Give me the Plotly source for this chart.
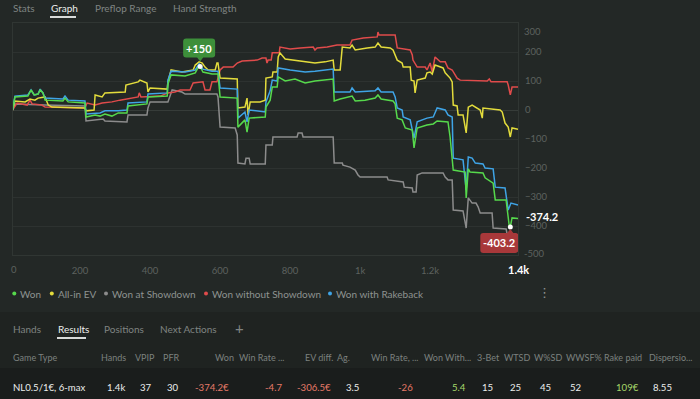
import plotly.graph_objects as go

W, H = 700, 399
FONT = "Lato"
BG = "#232826"
PANEL = "#1f2321"
ROW = "#1a1d1c"
GRID = "#2d3230"
AXIS_TXT = "#5d625f"
TAB_TXT = "#7f8482"
HEAD_TXT = "#7c817f"
WHITE = "#eceeed"
NEG = "#e57a68"
POS = "#a6d86a"

GREEN = "#56d94c"
YELLOW = "#e3dc3c"
GRAY = "#8c8c8c"
RED = "#e04b4b"
BLUE = "#3fa4e6"

# ---------------- data (hands, amount) ----------------
won = [(7, 0), (14, 45), (51, 48), (60, 69), (69, 52), (80, 55), (86, 69), (94, 59), (100, 34),
       (151, 31), (157, 41), (166, 28), (214, 24), (217, -24), (243, -17), (257, -21), (271, -14),
       (291, -21), (309, -10), (334, -10), (337, 14), (391, 21), (394, 45), (449, 48), (451, 90),
       (460, 121), (500, 117), (529, 128), (537, 146), (543, 150), (551, 131), (577, 124), (594, 124),
       (600, 45), (649, 41), (651, -59), (671, -34), (677, -76), (683, -28), (729, -24), (731, 10),
       (743, 34), (749, 79), (763, 79), (766, 114), (786, 100), (814, 107), (843, 93), (871, 100),
       (900, 103), (923, 107), (926, 31), (943, 38), (977, 48), (986, 31), (1014, 34), (1043, 41),
       (1051, 52), (1060, 38), (1094, 31), (1100, 21), (1106, -28), (1120, -34), (1129, -62),
       (1143, -66), (1149, -69), (1154, -131), (1163, -62), (1191, -52), (1209, -48), (1220, -38),
       (1251, -41), (1257, -93), (1266, -207), (1300, -214), (1303, -303), (1309, -203), (1314, -214),
       (1351, -217), (1357, -234), (1380, -252), (1386, -310), (1417, -310), (1426, -400),
       (1429, -403.2), (1434, -372), (1451, -374.2)]

allin_ev = [(7, 0), (14, 31), (43, 28), (57, 38), (71, 34), (80, 41), (100, 45), (109, 17), (120, 10),
            (214, 7), (217, -3), (240, 0), (243, 52), (263, 45), (271, 59), (309, 62), (329, 62),
            (331, 86), (366, 97), (371, 103), (386, 97), (391, 93), (394, 62), (400, 76), (449, 72),
            (451, 97), (460, 138), (491, 131), (523, 138), (529, 155), (540, 166), (549, 162),
            (557, 148), (566, 138), (586, 138), (591, 162), (594, 162), (600, 110), (649, 107),
            (651, 7), (671, 10), (677, 41), (680, -17), (686, 28), (714, 28), (729, 34), (731, 110),
            (749, 114), (751, 131), (763, 131), (766, 183), (771, 197), (786, 176), (814, 172),
            (843, 166), (871, 162), (900, 166), (923, 172), (926, 138), (943, 138), (949, 217),
            (971, 214), (977, 224), (986, 207), (1020, 214), (1043, 217), (1051, 231), (1060, 217),
            (1086, 214), (1094, 207), (1106, 172), (1120, 162), (1123, 148), (1143, 148), (1146, 103),
            (1154, 100), (1157, 59), (1163, 103), (1186, 110), (1191, 128), (1200, 131), (1206, 124),
            (1214, 155), (1237, 145), (1243, 128), (1257, 110), (1263, 97), (1266, 17), (1277, 14),
            (1280, -17), (1294, -17), (1303, -79), (1309, 10), (1320, 17), (1343, 0), (1349, -28),
            (1351, 7), (1400, 0), (1406, -7), (1414, -45), (1423, -59), (1429, -93), (1434, -62),
            (1451, -66)]

won_showdown = [(7, 0), (14, 21), (100, 17), (214, 14), (217, -38), (266, -31), (271, -38), (334, -41),
                (337, -17), (391, -17), (394, 7), (400, 28), (451, 28), (457, 52), (463, 69), (491, 62),
                (500, 55), (591, 55), (594, 45), (600, -59), (643, -62), (649, -86), (651, -183),
                (671, -186), (674, -166), (683, -166), (686, -186), (729, -186), (731, -121), (749, -121),
                (751, -93), (820, -93), (823, -79), (834, -79), (837, -93), (923, -93), (926, -183),
                (949, -183), (951, -190), (971, -197), (986, -207), (994, -224), (1000, -231),
                (1077, -231), (1080, -241), (1123, -248), (1126, -266), (1149, -269), (1151, -283),
                (1160, -283), (1163, -224), (1177, -217), (1237, -217), (1243, -231), (1251, -241),
                (1263, -241), (1266, -345), (1294, -348), (1303, -407), (1309, -303), (1320, -321),
                (1331, -321), (1337, -334), (1343, -355), (1377, -355), (1380, -407), (1417, -410),
                (1423, -448), (1451, -452)]

won_no_showdown = [(7, 0), (20, 24), (49, 17), (57, 34), (63, 21), (91, 17), (100, 10), (214, 7), (220, 24),
                   (243, 17), (263, 24), (291, 28), (314, 34), (349, 41), (366, 45), (369, 59), (374, 45),
                   (429, 48), (451, 59), (471, 62), (486, 69), (514, 69), (523, 93), (551, 97), (557, 69),
                   (571, 69), (577, 97), (591, 97), (600, 138), (609, 148), (637, 148), (649, 162),
                   (663, 169), (706, 172), (720, 179), (731, 179), (734, 162), (737, 172), (746, 172),
                   (749, 197), (769, 197), (771, 217), (800, 210), (829, 214), (866, 217), (871, 207),
                   (877, 214), (906, 217), (934, 224), (971, 224), (977, 241), (1009, 248), (1049, 252),
                   (1051, 269), (1054, 259), (1100, 259), (1106, 214), (1143, 207), (1149, 190),
                   (1151, 172), (1163, 148), (1186, 148), (1191, 138), (1200, 162), (1206, 131),
                   (1214, 183), (1229, 166), (1243, 166), (1251, 145), (1263, 138), (1277, 110),
                   (1286, 103), (1363, 100), (1369, 107), (1374, 97), (1420, 97), (1423, 86), (1429, 52),
                   (1434, 79), (1451, 79)]

won_rakeback = [(7, 0), (14, 48), (51, 52), (60, 69), (69, 52), (80, 55), (86, 72), (94, 59), (100, 41),
                (151, 38), (157, 48), (166, 34), (214, 31), (217, -14), (257, -10), (271, -3), (309, -3),
                (334, 0), (337, 24), (391, 28), (394, 55), (449, 59), (451, 103), (460, 134), (500, 131),
                (529, 138), (540, 159), (551, 141), (577, 134), (594, 134), (600, 76), (649, 72),
                (651, -28), (671, -7), (677, -41), (683, 0), (729, -7), (731, 28), (743, 66), (749, 103),
                (763, 100), (766, 145), (800, 138), (843, 131), (871, 134), (900, 138), (923, 141),
                (926, 62), (971, 62), (977, 76), (986, 62), (1043, 66), (1051, 76), (1060, 62), (1094, 62),
                (1100, 45), (1106, 7), (1120, 0), (1123, -24), (1143, -34), (1149, -69), (1154, -97),
                (1163, -41), (1191, -28), (1209, -24), (1220, 7), (1243, 0), (1251, -17), (1263, -24),
                (1266, -166), (1294, -172), (1303, -276), (1309, -162), (1320, -166), (1329, -183),
                (1351, -186), (1357, -200), (1380, -203), (1386, -266), (1414, -269), (1423, -345),
                (1431, -321), (1451, -328)]

x_ticks = [200, 400, 600, 800, 1000, 1200]
x_tick_text = ["200", "400", "600", "800", "1k", "1.2k"]
y_ticks = [-400, -300, -200, -100, 0, 100, 200]

legend_names = ["Won", "All-in EV", "Won at Showdown", "Won without Showdown", "Won with Rakeback"]

top_tabs = ["Stats", "Graph", "Preflop Range", "Hand Strength"]
bottom_tabs = ["Hands", "Results", "Positions", "Next Actions"]
columns = ["Game Type", "Hands", "VPIP", "PFR", "Won", "Win Rate ...", "EV diff.", "Ag.",
           "Win Rate, ...", "Won With...", "3-Bet", "WTSD", "W%SD", "WWSF%", "Rake paid", "Dispersio..."]
row_values = ["NL0.5/1€, 6-max", "1.4k", "37", "30", "-374.2€", "-4.7", "-306.5€", "3.5",
              "-26", "5.4", "15", "25", "45", "52", "109€", "8.55"]

# ---------------- layout helpers (pixel -> paper) ----------------
def X(p):
    return p / W


def Y(p):
    return 1 - p / H


PLOT_L, PLOT_R, PLOT_T, PLOT_B = 12.5, 518, 23, 255

fig = go.Figure()

series = [
    ("Won at Showdown", won_showdown, GRAY),
    ("Won without Showdown", won_no_showdown, RED),
    ("All-in EV", allin_ev, YELLOW),
    ("Won with Rakeback", won_rakeback, BLUE),
    ("Won", won, GREEN),
]
for name, pts, col in series:
    xs, ys = zip(*pts)
    fig.add_trace(go.Scatter(x=list(xs), y=list(ys), mode="lines", name=name,
                             line=dict(color=col, width=1.5), showlegend=False, hoverinfo="skip"))

won_x = [p[0] for p in won]
won_y = [p[1] for p in won]
imax = max(range(len(won_y)), key=lambda i: won_y[i])
imin = min(range(len(won_y)), key=lambda i: won_y[i])
fig.add_trace(go.Scatter(x=[won_x[imax], won_x[imin]], y=[won_y[imax], won_y[imin]], mode="markers",
                         marker=dict(color="white", size=5), showlegend=False, hoverinfo="skip",
                         cliponaxis=False))

ann = []
shapes = []


def text(s, x, y, color, size=10.5, anchor="left", bold=False, family=FONT):
    ann.append(dict(text=("<b>%s</b>" % s) if bold else s, x=X(x), y=Y(y), xref="paper", yref="paper",
                    xanchor=anchor, yanchor="middle", showarrow=False,
                    font=dict(family=family, size=size, color=color)))


def hline(x0, x1, y, color, width=2):
    shapes.append(dict(type="line", xref="paper", yref="paper", x0=X(x0), x1=X(x1), y0=Y(y), y1=Y(y),
                       line=dict(color=color, width=width), layer="above"))


def rrect_path(l, r, t, b, rad, tip=None):
    # y positive = up ; tip = ("down"/"up", cx, half, tipy)
    p = "M%s,%s " % (l + rad, t)
    if tip and tip[0] == "up":
        _, cx, hw, ty = tip
        p += "L%s,%s L%s,%s L%s,%s " % (cx - hw, t, cx, ty, cx + hw, t)
    p += "L%s,%s Q%s,%s %s,%s " % (r - rad, t, r, t, r, t - rad)
    p += "L%s,%s Q%s,%s %s,%s " % (r, b + rad, r, b, r - rad, b)
    if tip and tip[0] == "down":
        _, cx, hw, ty = tip
        p += "L%s,%s L%s,%s L%s,%s " % (cx + hw, b, cx, ty, cx - hw, b)
    p += "L%s,%s Q%s,%s %s,%s " % (l + rad, b, l, b, l, b + rad)
    p += "L%s,%s Q%s,%s %s,%s Z" % (l, t - rad, l, t, l + rad, t)
    return p


# bubbles anchored on the max / min of "Won"
shapes.append(dict(type="path", xref="x", yref="y", xsizemode="pixel", ysizemode="pixel",
                   xanchor=won_x[imax], yanchor=won_y[imax],
                   path=rrect_path(-17, 15, 28, 9, 3, ("down", 0, 3, 5)),
                   fillcolor="#3d8f3a", line=dict(width=0), layer="above"))
ann.append(dict(text="<b>+%g</b>" % won_y[imax], x=won_x[imax], y=won_y[imax], xref="x", yref="y",
                xshift=-1, yshift=18.5, showarrow=False, font=dict(family=FONT, size=11, color="white")))
shapes.append(dict(type="path", xref="x", yref="y", xsizemode="pixel", ysizemode="pixel",
                   xanchor=won_x[imin], yanchor=won_y[imin],
                   path=rrect_path(-30, 8, -6, -26, 3, ("up", 0, 3, -2)),
                   fillcolor="#a8383a", line=dict(width=0), layer="above"))
ann.append(dict(text="<b>%g</b>" % won_y[imin], x=won_x[imin], y=won_y[imin], xref="x", yref="y",
                xshift=-11, yshift=-16, showarrow=False, font=dict(family=FONT, size=11, color="white")))
# last value label
ann.append(dict(text="<b>%g</b>" % won_y[-1], x=won_x[-1], y=won_y[-1], xref="x", yref="y",
                xanchor="left", xshift=6, yshift=2.5, showarrow=False,
                font=dict(family=FONT, size=11, color="white")))
# last x label
ann.append(dict(text="<b>1.4k</b>", x=won_x[-1], y=Y(269), xref="x", yref="paper", yanchor="middle",
                showarrow=False, font=dict(family=FONT, size=11, color="white")))
# edge axis labels
text("0", 14, 269, AXIS_TXT, size=9.5, anchor="center")
text("300", 522, 31.5, AXIS_TXT, size=9.5)
text("-500", 522, 253, AXIS_TXT, size=9.5)

# panels
shapes.append(dict(type="rect", xref="paper", yref="paper", x0=0, x1=1, y0=Y(399), y1=Y(312),
                   fillcolor=PANEL, line=dict(width=0), layer="below"))
shapes.append(dict(type="rect", xref="paper", yref="paper", x0=0, x1=1, y0=Y(399), y1=Y(368),
                   fillcolor=ROW, line=dict(width=0), layer="below"))

# top tabs
for s, x0 in zip(top_tabs, [12, 50, 94, 172]):
    text(s, x0 - 1, 8, WHITE if s == "Graph" else TAB_TXT, size=10)
hline(50, 76, 17, "#d8dad9", 2)

# legend
leg_cols = [GREEN, YELLOW, GRAY, RED, BLUE]
for name, col, dx, tx in zip(legend_names, leg_cols, [14.3, 51.8, 106, 206, 330],
                             [18.5, 56.5, 111, 211, 335]):
    shapes.append(dict(type="circle", xref="paper", yref="paper", x0=X(dx - 2), x1=X(dx + 2),
                       y0=Y(295.5), y1=Y(291.5), fillcolor=col, line=dict(width=0)))
    text(name, tx - 1, 293.5, "#8e9391", size=10)
text("⋮", 544.5, 292, "#8e9391", size=13, anchor="center", family="DejaVu Sans")

# bottom tabs
for s, x0 in zip(bottom_tabs, [12, 57, 103, 159]):
    text(s, x0 - 1, 329, WHITE if s == "Results" else TAB_TXT, size=10)
hline(57, 86, 338, "#d8dad9", 2)
text("+", 239, 328, TAB_TXT, size=15, anchor="center")

# header row (left edges, except "EV diff." which ends right before "Ag.")
head_pos = [(12, "left"), (100, "left"), (134, "left"), (162, "left"), (214, "left"), (238, "left"),
            (334, "right"), (336, "left"), (370, "left"), (423, "left"), (476, "left"), (503, "left"),
            (533, "left"), (565, "left"), (603, "left"), (648, "left")]
for s, (x0, anc) in zip(columns, head_pos):
    text(s, x0 - 1 if anc == "left" else x0 + 1, 357, HEAD_TXT, size=9, anchor=anc)

# data row
row_right = [None, 126, 153, 180, 230, 283, 332, 360, 414, 467, 494, 522, 552, 583, 640, 673]
row_cols = [WHITE, WHITE, WHITE, WHITE, NEG, NEG, NEG, WHITE, NEG, POS, WHITE, WHITE, WHITE, WHITE, POS, WHITE]
for s, xr, col in zip(row_values, row_right, row_cols):
    if xr is None:
        text(s, 11, 387, col, size=9.6)
    else:
        text(s, xr + 1, 387, col, size=9.6, anchor="right")

fig.update_layout(
    width=W, height=H, margin=dict(l=0, r=0, t=0, b=0),
    paper_bgcolor=BG, plot_bgcolor=BG,
    showlegend=False,
    font=dict(family=FONT),
    xaxis=dict(domain=[X(PLOT_L), X(PLOT_R)], range=[7, 1451], showgrid=False, zeroline=False,
               tickvals=x_ticks, ticktext=x_tick_text, tickfont=dict(size=9.5, color=AXIS_TXT),
               ticks="", ticklabelstandoff=7, showline=True, mirror=True, linecolor="#303633", linewidth=1,
               fixedrange=True),
    yaxis=dict(domain=[Y(PLOT_B), Y(PLOT_T)], range=[-500, 300], side="right", tickvals=y_ticks,
               tickfont=dict(size=9.5, color=AXIS_TXT), ticks="", ticklabelstandoff=4,
               showgrid=True, gridcolor=GRID, gridwidth=1, zeroline=True, zerolinecolor="#363c39",
               zerolinewidth=1, showline=True, mirror=True, linecolor="#303633", linewidth=1,
               fixedrange=True),
    annotations=ann, shapes=shapes,
)

fig.write_html("out.html", config={"displayModeBar": False},
               post_script="document.body.style.margin='0px';document.body.style.background='%s';" % BG)
